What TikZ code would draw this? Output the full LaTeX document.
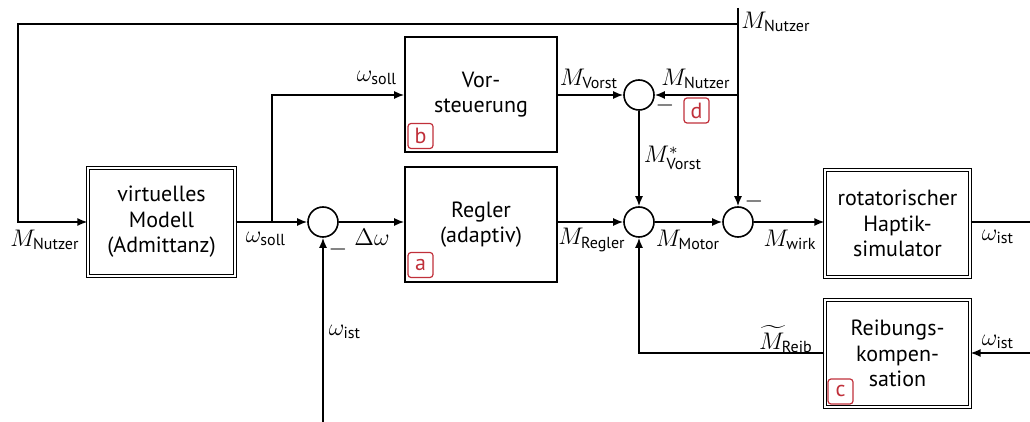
\documentclass[tikz,border=0pt]{standalone}
\usepackage{amsmath}
\usepackage{fontspec}
\setmainfont{PT Sans}
\usetikzlibrary{arrows.meta}
\definecolor{labred}{RGB}{192,48,58}
\begin{document}
\begin{tikzpicture}[x=0.5pt,y=-0.5pt, line width=0.8pt,
  >={Latex[length=5pt,width=4pt]},
  txt/.style={font=\fontsize{11}{12.8}\selectfont},
  blk/.style={txt, draw, minimum width=76pt, minimum height=57.5pt, align=center, inner sep=0pt},
  dblk/.style={txt, draw, double, double distance=1.2pt, line width=0.6pt, align=center, inner sep=0pt},
  sum/.style={draw, circle, minimum size=15pt, inner sep=0pt},
  tag/.style={draw=labred, text=labred, rounded corners=1.5pt, minimum size=12.5pt, inner sep=0pt, line width=0.6pt, font=\fontsize{11}{12}\selectfont},
  lab/.style={font=\fontsize{12}{13}\selectfont, inner sep=0pt}]
\useasboundingbox (0,0) rectangle (1030,422);

% blocks
\node[dblk, minimum width=73.5pt, minimum height=54pt] (model) at (161.5,222) {virtuelles\\Modell\\(Admittanz)};
\node[blk] (vorst) at (481,94.5) {Vor-\\steuerung};
\node[blk] (regler) at (481,224.5) {Regler\\(adaptiv)};
\node[dblk, minimum width=72.5pt, minimum height=53.5pt] (hapt) at (897.5,223.5) {rotatorischer\\Haptik-\\simulator};
\node[dblk, minimum width=72.5pt, minimum height=53.5pt] (reib) at (897.5,353.5) {Reibungs-\\kompen-\\sation};

% summing points
\node[sum] (c1) at (323,222) {};
\node[sum] (cd) at (639,95) {};
\node[sum] (cm) at (639,222) {};
\node[sum] (cw) at (738,222) {};

% tags
\node[tag] (ta) at (420.5,265) {a};
\node[tag] (tb) at (420.5,136) {b};
\node[tag] (tc) at (840.5,391.5) {c};
\node[tag] (td) at (696.5,110.5) {d};

% helper coordinates
\coordinate (topEnd) at (738,8);
\coordinate (topR) at (738,24);
\coordinate (topL) at (18,24);
\coordinate (brD) at (738,95);
\coordinate (brS) at (272,222);
\coordinate (botIn) at (323,422);
\coordinate (rightOut) at (1030,222);
\coordinate (rightIn) at (1030,353);

% connectors
\draw[->] (topEnd) -- (cw);
\draw[->] (topR) -- (topL) |- (model.west);
\draw[->] (brD) -- (cd);
\draw[->] (model.east |- c1) -- (c1);
\draw[->] (brS) |- (vorst.west |- cd);
\draw[->] (c1) -- (regler.west |- c1);
\draw[->] (botIn) -- (c1);
\draw[->] (regler.east |- cm) -- (cm);
\draw[->] (vorst.east |- cd) -- (cd);
\draw[->] (cd) -- (cm);
\draw[->] (cm) -- (cw);
\draw[->] (cw) -- (hapt.west |- cw);
\draw (hapt.east |- cw) -- (rightOut);
\draw[->] (rightIn) -- (reib.east |- rightIn);
\draw[->] (reib.west |- rightIn) -| (cm);

% labels
\node[lab] (l1) at (45,240) {$M_{\text{Nutzer}}$};
\node[lab] (l2) at (266,239) {$\omega_{\text{soll}}$};
\node[lab] (l3) at (377,78) {$\omega_{\text{soll}}$};
\node[lab] (l4) at (589,79) {$M_{\text{Vorst}}$};
\node[lab] (l5) at (696,79) {$M_{\text{Nutzer}}$};
\node[lab] (l6) at (776,22) {$M_{\text{Nutzer}}$};
\node[lab] (l7) at (665,106) {$-$};
\node[lab] (l8) at (673,158) {$M^{*}_{\text{Vorst}}$};
\node[lab] (l9) at (592,240) {$M_{\text{Regler}}$};
\node[lab] (l10) at (688,240) {$M_{\text{Motor}}$};
\node[lab] (l11) at (790,240) {$M_{\text{wirk}}$};
\node[lab] (l12) at (754,202) {$-$};
\node[lab] (l13) at (338,250) {$-$};
\node[lab] (l14) at (372,237) {$\Delta\omega$};
\node[lab] (l15) at (345,332) {$\omega_{\text{ist}}$};
\node[lab] (l16) at (998,237) {$\omega_{\text{ist}}$};
\node[lab] (l17) at (998,342) {$\omega_{\text{ist}}$};
\node[lab] (l18) at (786,339) {$\widetilde{M}_{\text{Reib}}$};
\end{tikzpicture}
\end{document}
